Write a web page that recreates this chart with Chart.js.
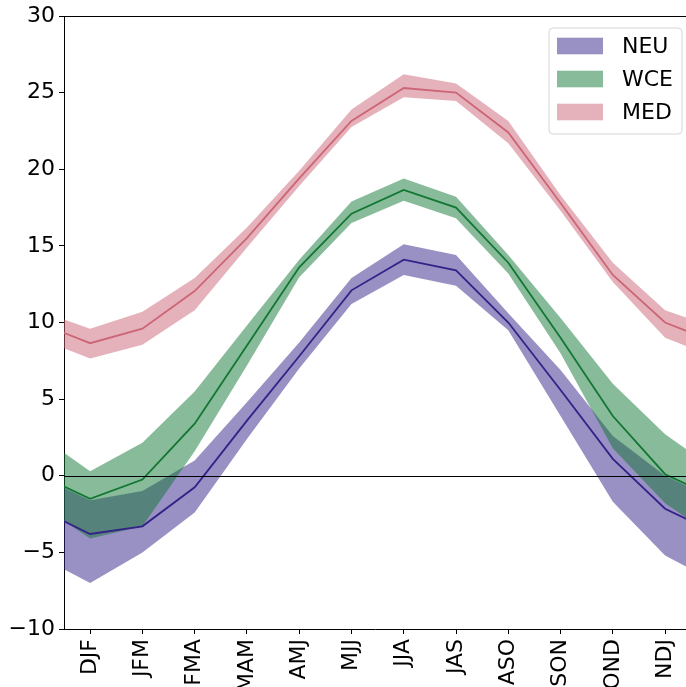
<!DOCTYPE html>
<html>
<head>
<meta charset="utf-8">
<script src="https://cdn.jsdelivr.net/npm/chart.js@4.4.0/dist/chart.umd.min.js"></script>
<style>
  body { margin: 0; background: #fff; }
  canvas { display: block; }
</style>
</head>
<body>
<canvas id="seas" width="686" height="687"></canvas>
<script>
// three-month seasons
const seasons = ['DJF','JFM','FMA','MAM','AMJ','MJJ','JJA','JAS','ASO','SON','OND','NDJ'];

const neuMean  = [-3.8, -3.3, -0.75, 3.6, 7.8, 12.1, 14.1, 13.4, 10.0, 5.6, 1.1, -2.15];
const neuUpper = [-1.6, -1.0, 1.0, 4.8, 8.7, 12.9, 15.1, 14.4, 10.6, 6.9, 2.6, 0.0];
const neuLower = [-7.0, -5.0, -2.4, 2.4, 7.0, 11.2, 13.1, 12.4, 9.5, 3.9, -1.7, -5.2];

const wceMean  = [-1.5, -0.25, 3.4, 8.5, 13.6, 17.1, 18.65, 17.5, 13.9, 9.0, 3.9, 0.1];
const wceUpper = [0.3, 2.15, 5.5, 9.8, 14.1, 17.9, 19.4, 18.2, 14.4, 10.3, 6.0, 2.7];
const wceLower = [-4.1, -3.3, 1.6, 7.2, 12.95, 16.5, 17.95, 16.8, 13.2, 8.0, 1.8, -1.8];

const medMean  = [8.65, 9.6, 12.05, 15.5, 19.4, 23.15, 25.3, 25.0, 22.4, 17.8, 13.1, 10.0];
const medUpper = [9.6, 10.7, 12.9, 16.2, 19.9, 23.9, 26.2, 25.6, 23.15, 18.3, 13.9, 10.8];
const medLower = [7.65, 8.55, 10.8, 14.9, 18.9, 22.75, 24.7, 24.45, 21.7, 17.3, 12.65, 9.0];

const yTicks = [-10, -5, 0, 5, 10, 15, 20, 25, 30];

const FONT = 'DejaVu Sans';
Chart.defaults.font.family = FONT;
Chart.defaults.font.size = 22;
Chart.defaults.color = '#000';

// the seasonal cycle wraps: NDJ before DJF, DJF again after NDJ
function cyc(vals) {
  const pts = vals.map((v, i) => ({ x: i, y: v }));
  pts.unshift({ x: -1, y: vals[vals.length - 1] });
  pts.push({ x: vals.length, y: vals[0] });
  return pts;
}

const regions = [
  { name: 'NEU', color: '#332288', band: 'rgba(51,34,136,0.5)',  mean: neuMean, upper: neuUpper, lower: neuLower, order: 3 },
  { name: 'WCE', color: '#117733', band: 'rgba(17,119,51,0.5)',  mean: wceMean, upper: wceUpper, lower: wceLower, order: 2 },
  { name: 'MED', color: '#CC6677', band: 'rgba(204,102,119,0.5)', mean: medMean, upper: medUpper, lower: medLower, order: 1 }
];

const datasets = [];
regions.forEach(r => {
  datasets.push({ label: r.name, data: cyc(r.upper), borderWidth: 0, pointRadius: 0,
                  backgroundColor: r.band, fill: '+1', order: r.order });
  datasets.push({ label: r.name + ' low', data: cyc(r.lower), borderWidth: 0, pointRadius: 0,
                  fill: false, order: r.order });
});
regions.forEach(r => {
  datasets.push({ label: r.name + ' mean', data: cyc(r.mean), borderColor: r.color, borderWidth: 1.8,
                  pointRadius: 0, fill: false, order: 0 });
});

// zero line, top spine and the legend box
const extras = {
  id: 'extras',
  afterDatasetsDraw(chart) {
    const { ctx, chartArea: a, scales: { y } } = chart;
    ctx.save();
    ctx.strokeStyle = '#000';
    ctx.lineWidth = 1.2;
    const y0 = Math.round(y.getPixelForValue(0)) + 0.5;
    ctx.beginPath();
    ctx.moveTo(a.left, y0);
    ctx.lineTo(a.right, y0);
    ctx.stroke();
    ctx.lineWidth = 1;
    ctx.beginPath();
    ctx.moveTo(a.left, a.top + 0.5);
    ctx.lineTo(a.right, a.top + 0.5);
    ctx.stroke();

    // legend
    const bw = 133, bh = 106;
    const bx = a.right - 4.5 - bw, by = a.top + 11.5;
    ctx.beginPath();
    ctx.roundRect(bx + 0.5, by + 0.5, bw, bh, 4);
    ctx.fillStyle = 'rgba(255,255,255,0.8)';
    ctx.fill();
    ctx.strokeStyle = '#d6d6d6';
    ctx.stroke();
    ctx.font = '22px "' + FONT + '"';
    ctx.textBaseline = 'middle';
    ctx.textAlign = 'left';
    regions.forEach((r, i) => {
      const cy = by + 18.5 + i * 33;
      ctx.fillStyle = r.band;
      ctx.fillRect(bx + 8.5, cy - 8.3, 46, 16.6);
      ctx.fillStyle = '#000';
      ctx.fillText(r.name, bx + 73.5, cy + 1);
    });
    ctx.restore();
  }
};

new Chart(document.getElementById('seas'), {
  type: 'line',
  data: { datasets },
  options: {
    responsive: false,
    devicePixelRatio: 1,
    animation: false,
    layout: { padding: { top: 16, right: 0, left: 0, bottom: 0 } },
    plugins: { legend: { display: false }, tooltip: { enabled: false } },
    scales: {
      x: {
        type: 'linear',
        min: -0.5,
        max: 11.4,
        afterBuildTicks: s => { s.ticks = seasons.map((c, i) => ({ value: i })); },
        afterFit: s => { s.height = 58; s.paddingLeft = 0; s.paddingRight = 0; },
        ticks: {
          autoSkip: false,
          maxRotation: 90,
          minRotation: 90,
          padding: 5,
          callback: v => seasons[v]
        },
        grid: { display: true, drawOnChartArea: false, drawTicks: true, tickLength: 5, tickColor: '#000', tickWidth: 1 },
        border: { display: true, color: '#000', width: 1 }
      },
      y: {
        min: -10,
        max: 30,
        afterBuildTicks: s => { s.ticks = yTicks.map(v => ({ value: v })); },
        afterFit: s => { s.width = 64; s.paddingTop = 0; s.paddingBottom = 0; },
        ticks: {
          padding: 4,
          callback: v => (v < 0 ? '\u2212' + Math.abs(v) : String(v))
        },
        grid: { display: true, drawOnChartArea: false, drawTicks: true, tickLength: 5, tickColor: '#000', tickWidth: 1 },
        border: { display: true, color: '#000', width: 1 }
      }
    }
  },
  plugins: [extras]
});
</script>
</body>
</html>
